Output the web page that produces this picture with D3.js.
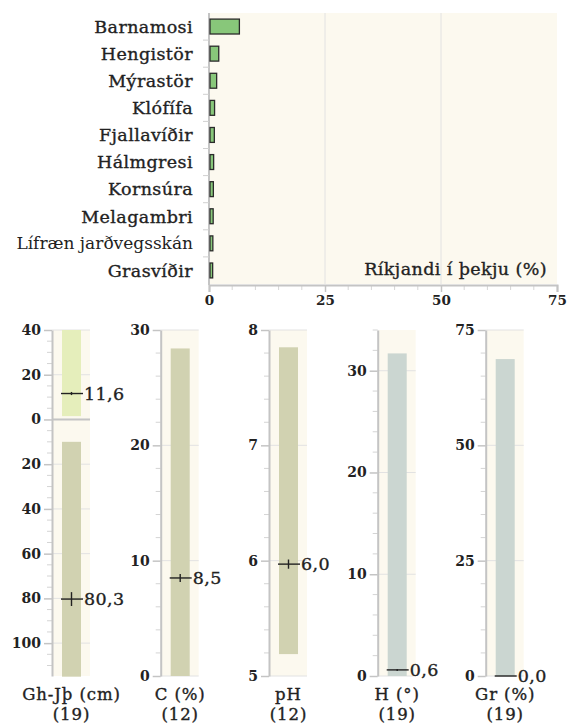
<!DOCTYPE html>
<html>
<head>
<meta charset="utf-8">
<script src="https://cdn.jsdelivr.net/npm/d3@7"></script>
<style>
  html, body { margin: 0; padding: 0; background: #ffffff; }
  svg { display: block; }
  text { font-family: "DejaVu Serif", serif; fill: #222; }
  text.heavy { stroke: #222; stroke-width: 0.35px; }
</style>
</head>
<body>
<svg id="chart" width="568" height="725"></svg>
<script>
// ---------- DATA ----------
const categories = ["Barnamosi", "Hengistör", "Mýrastör", "Klófífa", "Fjallavíðir",
                    "Hálmgresi", "Kornsúra", "Melagambri", "Lífræn jarðvegsskán", "Grasvíðir"];
const dominance = [6.55, 2.1, 1.65, 1.2, 1.15, 1.0, 0.94, 0.9, 0.83, 0.79];
const domTicks = [0, 25, 50, 75];
const domTitle = "Ríkjandi í þekju (%)";

// Gh (above ground, upward) and Jþ (depth, downward) in cm
const ghRange = [1.5, 40];
const ghMean = 11.6;
const ghSe = 0.7;
const jthRange = [10, 115];
const jthMean = 80.3;
const jthSe = 3.1;
const ghTicks = [-40, -20, 0, 20, 40, 60, 80, 100];

const panelNames = ["C (%)", "pH", "H (°)", "Gr (%)"];
const panelCounts = [12, 12, 19, 19];
const panelLow = [0, 5.19, 0, 0];
const panelHigh = [28.4, 7.85, 31.7, 68.7];
const panelMean = [8.5, 5.97, 0.6, 0.0];
const panelSe = [0.35, 0.04, 0.1, 0];
const panelDomains = [[0, 30], [5, 8], [0, 34], [0, 75]];
const panelTicks = [[0, 10, 20, 30], [5, 6, 7, 8], [0, 10, 20, 30], [0, 25, 50, 75]];
const panelMinorStep = [2, 0.2, 2, 5];
const ghName = "Gh-Jþ (cm)";
const ghCount = 19;

// ---------- STYLE ----------
const cream = "#fcf9ef";
const axisCol = "#c4c4c4";
const gridCol = "#e2e2e2";
const FS = 17.5, LS = 0.4;
const fmt = v => d3.format(".1f")(v).replace(".", ",");

const svg = d3.select("#chart");

// ---------- TOP CHART ----------
const tp = { l: 209, r: 557, t: 13, b: 284 };
const x = d3.scaleLinear().domain([0, 75]).range([tp.l, tp.r]);
const yb = d3.scaleBand().domain(categories).range([tp.t, tp.b]).paddingInner(0.45).paddingOuter(0.225);

svg.append("rect").attr("x", tp.l).attr("y", tp.t)
  .attr("width", tp.r - tp.l).attr("height", tp.b - tp.t).attr("fill", cream);

svg.append("g").selectAll("line").data(domTicks.filter(d => d > 0 && d < 75)).join("line")
  .attr("x1", d => x(d)).attr("x2", d => x(d))
  .attr("y1", tp.t).attr("y2", tp.b)
  .attr("stroke", gridCol).attr("stroke-width", 1);

svg.append("g").selectAll("line").data(d3.range(0, 76, 5).filter(d => !domTicks.includes(d))).join("line")
  .attr("x1", d => x(d)).attr("x2", d => x(d))
  .attr("y1", tp.b + 1).attr("y2", tp.b + 6)
  .attr("stroke", "#d6d6d6").attr("stroke-width", 1);

const xAxis = svg.append("g").attr("transform", `translate(0,${tp.b + 1})`)
  .call(d3.axisBottom(x).tickValues(domTicks).tickSize(7).tickPadding(3).tickFormat(d3.format("d")));
xAxis.select(".domain").attr("stroke", axisCol).attr("stroke-width", 2);
xAxis.selectAll(".tick line").attr("stroke", axisCol).attr("stroke-width", 1.5);
xAxis.selectAll(".tick text").attr("font-family", "DejaVu Serif").attr("font-size", 13.5)
  .attr("font-weight", "bold").attr("fill", "#222");

svg.append("line").attr("x1", tp.l).attr("x2", tp.l).attr("y1", tp.t).attr("y2", tp.b + 1)
  .attr("stroke", axisCol).attr("stroke-width", 2);
svg.append("g").selectAll("line").data(d3.range(1, categories.length)).join("line")
  .attr("x1", tp.l - 6).attr("x2", tp.l)
  .attr("y1", i => tp.t + i * (tp.b - tp.t) / categories.length)
  .attr("y2", i => tp.t + i * (tp.b - tp.t) / categories.length)
  .attr("stroke", "#d0d0d0").attr("stroke-width", 1);

svg.append("g").selectAll("rect").data(categories).join("rect")
  .attr("x", x(0) + 1)
  .attr("y", d => yb(d))
  .attr("width", (d, i) => Math.max(0, x(dominance[i]) - x(0) - 1))
  .attr("height", yb.bandwidth())
  .attr("fill", "#88c77a").attr("stroke", "#2b2b2b").attr("stroke-width", 1.3);

const isSans = d => d.includes("ð") && d.includes(" ");
svg.append("g").selectAll("text").data(categories).join("text")
  .attr("class", d => isSans(d) ? null : "heavy")
  .attr("x", 193)
  .attr("y", d => yb(d) + yb.bandwidth() / 2)
  .attr("dy", "0.36em")
  .attr("text-anchor", "end")
  .attr("font-size", d => isSans(d) ? 17 : FS)
  .attr("letter-spacing", d => isSans(d) ? 0 : LS)
  .attr("font-family", d => isSans(d) ? "DejaVu Sans" : "DejaVu Serif")
  .text(d => d);

svg.append("text").attr("class", "heavy").attr("x", 547).attr("y", 275).attr("text-anchor", "end")
  .attr("font-size", FS).attr("letter-spacing", LS).text(domTitle);

// ---------- BOTTOM PANELS ----------
const pTop = 330, pBot = 676;
const axisX = [52, 160.7, 269, 377.7, 485.7];
const creamW = 37, barOff = 10, barW = 19;

function drawPanel(i, yScale, ticks, minor, tickFmt, bars, markers, name, count) {
  const ax = axisX[i];
  const g = svg.append("g");
  g.append("rect").attr("x", ax + 1).attr("y", pTop).attr("width", creamW)
    .attr("height", pBot - pTop).attr("fill", cream);
  g.append("g").selectAll("line").data(ticks).join("line")
    .attr("x1", ax).attr("x2", ax + creamW + 1)
    .attr("y1", d => yScale(d)).attr("y2", d => yScale(d))
    .attr("stroke", gridCol).attr("stroke-width", 1);
  g.append("g").selectAll("line").data(minor.filter(m => !ticks.some(t => Math.abs(t - m) < 1e-6))).join("line")
    .attr("x1", ax - 5).attr("x2", ax)
    .attr("y1", d => yScale(d)).attr("y2", d => yScale(d))
    .attr("stroke", "#d4d4d4").attr("stroke-width", 1);
  const a = g.append("g").attr("transform", `translate(${ax},0)`)
    .call(d3.axisLeft(yScale).tickValues(ticks).tickSize(8).tickPadding(3).tickSizeOuter(0).tickFormat(tickFmt));
  a.select(".domain").attr("stroke", axisCol).attr("stroke-width", 2);
  a.selectAll(".tick line").attr("stroke", axisCol).attr("stroke-width", 1.5);
  a.selectAll(".tick text").attr("font-family", "DejaVu Serif").attr("font-size", 14)
    .attr("font-weight", "bold").attr("fill", "#222");
  const bx = ax + barOff;
  bars.forEach(b => {
    g.append("rect").attr("x", bx).attr("width", barW)
      .attr("y", Math.min(yScale(b.lo), yScale(b.hi)))
      .attr("height", Math.abs(yScale(b.hi) - yScale(b.lo)))
      .attr("fill", b.color);
  });
  markers.forEach(m => {
    g.append("line").attr("x1", bx - 1).attr("x2", bx + barW + 2)
      .attr("y1", yScale(m.pos)).attr("y2", yScale(m.pos))
      .attr("stroke", "#222").attr("stroke-width", 1.4);
    if (m.se > 0) {
      g.append("line").attr("x1", bx + barW / 2).attr("x2", bx + barW / 2)
        .attr("y1", yScale(m.pos - m.se)).attr("y2", yScale(m.pos + m.se))
        .attr("stroke", "#222").attr("stroke-width", 1.4);
    }
    g.append("text").attr("class", "heavy").attr("x", bx + barW + 3).attr("y", yScale(m.pos)).attr("dy", "0.36em")
      .attr("font-size", FS).attr("letter-spacing", LS).text(fmt(m.value));
  });
  const cx = bx + barW / 2;
  g.append("text").attr("class", "heavy").attr("x", cx).attr("y", 700).attr("text-anchor", "middle")
    .attr("font-size", 16.5).attr("letter-spacing", 0.9).text(name);
  g.append("text").attr("class", "heavy").attr("x", cx).attr("y", 720).attr("text-anchor", "middle")
    .attr("font-size", 16.5).attr("letter-spacing", 0.9).text(`(${count})`);
  return g;
}

// Panel 1: Gh (negative = above ground) and Jþ (depth)
const yGh = d3.scaleLinear().domain([-40, 114.7]).range([pTop, pBot]);
const g1 = drawPanel(0, yGh, ghTicks, d3.range(-40, 115, 5), d => d3.format("d")(Math.abs(d)),
  [{ lo: -ghRange[1], hi: -ghRange[0], color: "#e5eebb" },
   { lo: jthRange[0], hi: jthRange[1], color: "#d1d2b1" }],
  [{ pos: -ghMean, value: ghMean, se: ghSe }, { pos: jthMean, value: jthMean, se: jthSe }],
  ghName, ghCount);
g1.append("line").attr("x1", axisX[0]).attr("x2", axisX[0] + creamW + 1)
  .attr("y1", yGh(0)).attr("y2", yGh(0)).attr("stroke", axisCol).attr("stroke-width", 2);

const panelColors = ["#d1d2b1", "#d1d2b1", "#cbd6d1", "#cbd6d1"];
panelNames.forEach((name, k) => {
  const dom = panelDomains[k];
  const ys = d3.scaleLinear().domain(dom).range([pBot, pTop]);
  const minor = d3.range(dom[0], dom[1] + 1e-9, panelMinorStep[k]).map(v => +v.toFixed(4));
  drawPanel(k + 1, ys, panelTicks[k], minor, d3.format("d"),
    [{ lo: panelLow[k], hi: panelHigh[k], color: panelColors[k] }],
    [{ pos: panelMean[k], value: panelMean[k], se: panelSe[k] }],
    name, panelCounts[k]);
});
</script>
</body>
</html>
